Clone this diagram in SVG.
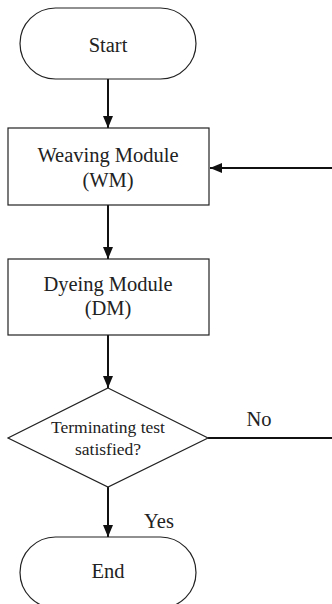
<svg xmlns="http://www.w3.org/2000/svg" width="332" height="604" viewBox="0 0 332 604">
<style>
.s{fill:#fff;stroke:#222;stroke-width:1.2}
.c{stroke:#111;stroke-width:2;fill:none}
text{font-family:"Liberation Serif","DejaVu Serif",serif;fill:#222;text-anchor:middle}
.t{font-size:20.5px}
.d{font-size:17.5px}
</style>
<defs>
<marker id="a" viewBox="0 0 12 10" refX="12" refY="5" markerWidth="12" markerHeight="10" markerUnits="userSpaceOnUse" orient="auto">
<path d="M0,0L12,5L0,10z" fill="#111"/>
</marker>
</defs>
<rect width="332" height="604" fill="#fff"/>
<g id="connectors">
<line class="c" x1="108" y1="79" x2="108" y2="128" marker-end="url(#a)"/>
<line class="c" x1="332" y1="168" x2="210" y2="168" marker-end="url(#a)"/>
<line class="c" x1="108" y1="205" x2="108" y2="259" marker-end="url(#a)"/>
<line class="c" x1="108" y1="335" x2="108" y2="388" marker-end="url(#a)"/>
<line class="c" x1="208" y1="438" x2="332" y2="438"/>
<line class="c" x1="108" y1="487" x2="108" y2="537" marker-end="url(#a)"/>
<text class="t" x="259" y="426">No</text>
<text class="t" x="159" y="528">Yes</text>
</g>
<g id="start">
<rect class="s" x="20" y="8" width="176" height="71" rx="35.5"/>
<text class="t" x="108" y="52">Start</text>
</g>
<g id="wm">
<rect class="s" x="8" y="128" width="201" height="77"/>
<text class="t" x="108" y="162">Weaving Module</text>
<text class="t" x="108" y="187">(WM)</text>
</g>
<g id="dm">
<rect class="s" x="8" y="259" width="201" height="76"/>
<text class="t" x="108" y="291">Dyeing Module</text>
<text class="t" x="108" y="315">(DM)</text>
</g>
<g id="test">
<polygon class="s" points="108,388 208,438 108,487 8,438"/>
<text class="d" x="108" y="433">Terminating test</text>
<text class="d" x="108" y="455">satisfied?</text>
</g>
<g id="end">
<rect class="s" x="20" y="537" width="176" height="71" rx="35.5"/>
<text class="t" x="108" y="578">End</text>
</g>
</svg>
